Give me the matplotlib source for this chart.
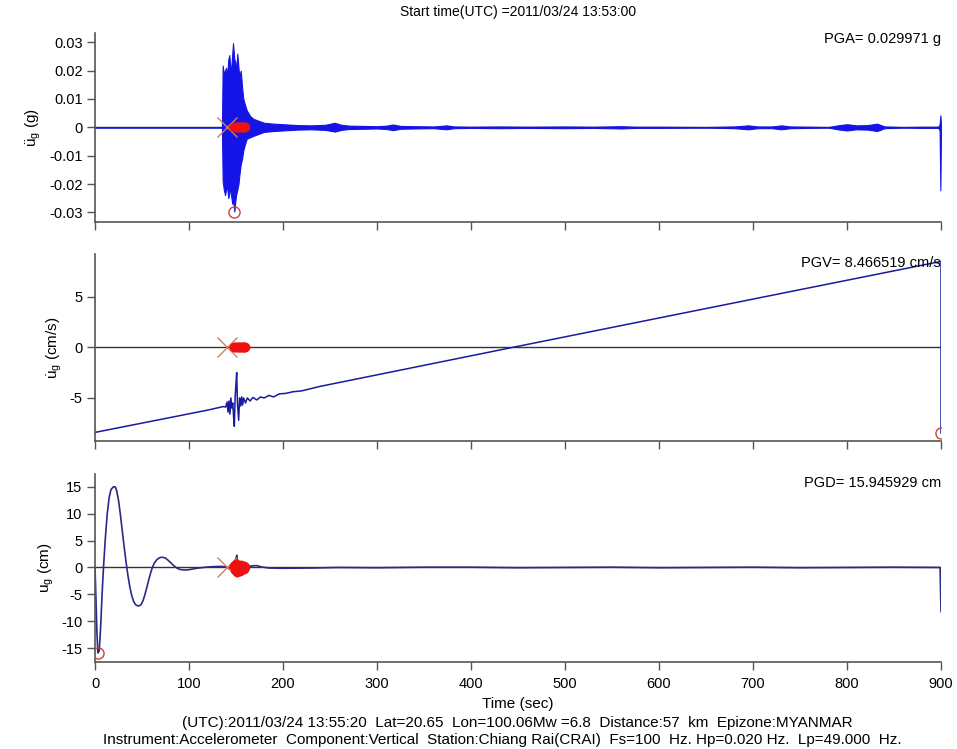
import numpy as np
import matplotlib.pyplot as plt

plt.rcParams['font.family'] = ['Liberation Sans', 'DejaVu Sans']
plt.rcParams['mathtext.default'] = 'regular'
plt.rcParams['axes.unicode_minus'] = False

# ---- acceleration (g): envelope of the dense record ----
acc_t = [0, 135, 135.8, 137, 138.3, 139.4, 140.5, 141.8, 142.9, 143.6, 144.7, 146.0,
         146.8, 148.2, 149.3, 150.0, 151.4, 152.6, 153.5, 155.0, 156.5, 157.8, 159.5,
         161.4, 165, 168.4, 175, 180, 190, 200, 215, 230, 245, 255, 262, 270, 285,
         300, 310, 317, 325, 340, 360, 374, 382, 400, 430, 460, 500, 530, 560, 575,
         600, 650, 680, 695, 705, 720, 730, 740, 760, 780, 792, 800, 810, 822, 832,
         840, 860, 880, 897, 898.5, 899.3, 900]
acc_up = [0, 0, 0.0218, 0.019, 0.020, 0.021, 0.018, 0.024, 0.0255, 0.022, 0.020, 0.026,
          0.0297, 0.024, 0.023, 0.019, 0.026, 0.021, 0.018, 0.020, 0.014, 0.010, 0.008,
          0.006, 0.004, 0.003, 0.0022, 0.0016, 0.0013, 0.0011, 0.0008, 0.0007, 0.0009,
          0.0016, 0.0009, 0.0006, 0.0005, 0.0004, 0.0006, 0.0010, 0.0005, 0.0004,
          0.0003, 0.0007, 0.0003, 0.0002, 0.0003, 0.0002, 0.0003, 0.0002, 0.0004, 0.0002,
          0.0002, 0.0001, 0.0003, 0.0007, 0.0003, 0.0003, 0.0007, 0.0003, 0.0002, 0.0001,
          0.0008, 0.0011, 0.0007, 0.0008, 0.0013, 0.0003, 0.0001, 0.0002, 0.0002, 0.0010,
          0.0042, 0.0010]
acc_lo = [0, 0, -0.019, -0.022, -0.0239, -0.022, -0.021, -0.025, -0.023, -0.021, -0.024,
          -0.027, -0.025, -0.0297, -0.026, -0.024, -0.022, -0.020, -0.017, -0.013, -0.011,
          -0.008, -0.006, -0.004, -0.0035, -0.003, -0.0022, -0.0016, -0.0013, -0.0011,
          -0.0008, -0.0007, -0.0009, -0.0015, -0.0009, -0.0006, -0.0005, -0.0004,
          -0.0006, -0.0010, -0.0005, -0.0004, -0.0003, -0.0007, -0.0003, -0.0002,
          -0.0003, -0.0002, -0.0003, -0.0002, -0.0004, -0.0002, -0.0002, -0.0001,
          -0.0003, -0.0007, -0.0003, -0.0003, -0.0007, -0.0003, -0.0002, -0.0001,
          -0.0008, -0.0011, -0.0007, -0.0008, -0.0013, -0.0003, -0.0001, -0.0002,
          -0.0002, -0.0010, -0.0222, -0.0010]
pga_t, pga = 148.2, -0.029971

# ---- velocity (cm/s) ----
vel_t = [0, 60, 120, 136.5, 139, 140.5, 141.5, 142.5, 143.5, 144.5, 145.5, 146.5, 147.5,
         148.2, 149, 150, 150.7, 151.5, 152.8, 153.8, 155, 156, 157, 158, 160, 162,
         165, 168, 172, 176, 180, 185, 190, 196, 203, 210, 220, 240, 445, 700, 900, 900]
vel_v = [-8.40, -7.30, -6.20, -5.85, -5.90, -5.40, -6.40, -5.30, -6.60, -5.00, -6.00,
         -5.50, -7.00, -7.80, -5.00, -3.50, -2.50, -5.50, -7.20, -5.00, -5.80, -4.90,
         -5.70, -5.00, -5.50, -5.00, -5.30, -4.95, -5.20, -4.90, -5.00, -4.75, -4.90,
         -4.60, -4.55, -4.40, -4.30, -3.85, 0.0, 4.75, 8.466519, -8.466519]
pgv_t, pgv = 900, -8.466519

# ---- displacement (cm) ----
dis_t = [0, 1, 2, 3, 4.5, 6, 7.5, 9, 11, 13, 15, 17, 19.5, 21.5, 23, 25, 27, 29, 31, 33,
         35, 37, 39, 41, 43, 45, 47, 49, 51, 53, 55, 57, 59, 61, 63, 66, 69, 72, 75, 78,
         81, 84, 87, 90, 94, 98, 102, 108, 115, 125, 135, 140, 143, 146, 149, 151, 152,
         154, 156, 158, 162, 167, 172, 177, 185, 200, 230, 260, 300, 350, 400, 450, 500,
         550, 600, 650, 700, 750, 800, 850, 899, 900]
dis_v = [0, -6.0, -12.0, -15.9, -15.5, -11.0, -5.0, 0.0, 5.5, 10.0, 13.0, 14.5, 15.0,
         15.0, 14.3, 12.5, 9.8, 6.8, 3.8, 1.0, -1.5, -3.6, -5.2, -6.3, -6.9, -7.1, -7.15,
         -6.9, -6.2, -5.1, -3.8, -2.4, -1.1, 0.0, 0.8, 1.5, 1.85, 1.9, 1.75, 1.3, 0.8,
         0.3, -0.1, -0.35, -0.45, -0.45, -0.35, -0.15, 0.0, 0.15, 0.2, 0.05, -0.3, 0.6,
         1.2, 2.3, 0.5, -0.8, -0.3, 0.3, 0.1, 0.3, 0.35, 0.1, -0.1, -0.15, -0.1, 0.0,
         -0.05, 0.05, 0.05, -0.05, 0.0, 0.05, -0.05, 0.0, 0.05, -0.05, 0.0, 0.05, 0.0, -8.2]
pgd_t, pgd = 3, -15.945929

# picks: P arrival (x) and the cluster of red points
p_time = 140
pick_t = [148, 149, 150, 151, 152, 153, 154, 155, 156, 157, 158, 159, 160]
pick_d = [0.3, -0.5, 0.6, -0.8, 0.2, 0.5, -0.6, 0.4, -0.3, 0.1, -0.2, 0.3, 0.0]

x_ticks = [0, 100, 200, 300, 400, 500, 600, 700, 800, 900]
acc_ticks = [-0.03, -0.02, -0.01, 0, 0.01, 0.02, 0.03]
acc_labels = ['-0.03', '-0.02', '-0.01', '0', '0.01', '0.02', '0.03']
vel_ticks = [-5, 0, 5]
dis_ticks = [-15, -10, -5, 0, 5, 10, 15]

title = 'Start time(UTC) =2011/03/24 13:53:00'
info1 = '(UTC):2011/03/24 13:55:20  Lat=20.65  Lon=100.06Mw =6.8  Distance:57  km  Epizone:MYANMAR'
info2 = ('Instrument:Accelerometer  Component:Vertical  Station:Chiang Rai(CRAI)  '
         'Fs=100  Hz. Hp=0.020 Hz.  Lp=49.000  Hz.')

spine_col = '#555555'
x_col = '#d07a68'
c_col = '#cc4433'

fig = plt.figure(figsize=(9.57, 7.49), dpi=100)
ax1 = fig.add_axes([0.0993, 0.7036, 0.884, 0.2524])
ax2 = fig.add_axes([0.0993, 0.4112, 0.884, 0.2497])
ax3 = fig.add_axes([0.0993, 0.1168, 0.884, 0.2504])


def style(ax, ylim, yticks, ylab, labels=None, showx=False):
    ax.set_xlim(0, 900)
    ax.set_ylim(*ylim)
    for s in ('top', 'right'):
        ax.spines[s].set_visible(False)
    for s in ('left', 'bottom'):
        ax.spines[s].set_color(spine_col)
        ax.spines[s].set_linewidth(1.2)
    ax.set_xticks(x_ticks)
    ax.set_yticks(yticks)
    if labels is not None:
        ax.set_yticklabels(labels)
    ax.tick_params(direction='out', length=6, width=1, color=spine_col,
                   labelsize=10.5, labelbottom=showx, pad=3)
    ax.tick_params(axis='x', pad=5)
    ax.set_ylabel(ylab, fontsize=11, labelpad=4)
    ax.axhline(0, color='#333333', lw=1, zorder=1)


# acceleration
ax1.fill_between(acc_t, acc_lo, acc_up, color='#1414e6', lw=0.8, zorder=2)
ax1.plot([p_time], [0], 'x', ms=15, mew=1, color=x_col, zorder=4)
ax1.plot(pick_t, [0] * len(pick_t), 'o', ms=6, color='#ee1111', zorder=4)
ax1.plot([pga_t], [pga], 'o', ms=8, mfc='none', mew=1, color=c_col, zorder=4)
style(ax1, (-0.0334, 0.0333), acc_ticks, r'$\ddot{u}_g$ (g)', acc_labels)
ax1.text(900, 0.0312, 'PGA= 0.029971 g', ha='right', va='center', fontsize=10.5)

# velocity
ax2.plot(vel_t, vel_v, color='#1a1aa0', lw=1.1, zorder=2)
ax2.plot([p_time], [0], 'x', ms=15, mew=1, color=x_col, zorder=4)
ax2.plot(pick_t, [0] * len(pick_t), 'o', ms=6, color='#ee1111', zorder=4)
ax2.plot([pgv_t], [pgv], 'o', ms=8, mfc='none', mew=1, color=c_col, zorder=4)
style(ax2, (-9.25, 9.2), vel_ticks, r'$\dot{u}_g$ (cm/s)')
ax2.text(900, 8.3, 'PGV= 8.466519 cm/s', ha='right', va='center', fontsize=10.5)

# displacement
ax3.plot(dis_t, dis_v, color='#2a2a88', lw=1.2, zorder=2)
ax3.plot([p_time], [0], 'x', ms=15, mew=1, color=x_col, zorder=4)
ax3.plot(pick_t, pick_d, 'o', ms=6, color='#ee1111', zorder=4)
ax3.plot([pgd_t], [pgd], 'o', ms=8, mfc='none', mew=1, color=c_col, zorder=4)
style(ax3, (-17.5, 17.4), dis_ticks, r'$u_g$ (cm)', showx=True)
ax3.text(900, 15.8, 'PGD= 15.945929 cm', ha='right', va='center', fontsize=10.5)

narrow = ['Liberation Sans Narrow', 'Liberation Sans']
fig.text(0.541, 1 - 12 / 749, title, ha='center', va='center', fontsize=10)
fig.text(0.541, 1 - 704 / 749, 'Time (sec)', ha='center', va='center',
         fontsize=11, family=narrow)
fig.text(0.541, 1 - 723 / 749, info1, ha='center', va='center', fontsize=11, family=narrow)
fig.text(0.525, 1 - 740 / 749, info2, ha='center', va='center', fontsize=11, family=narrow)

fig.savefig('out.png', dpi=100)
